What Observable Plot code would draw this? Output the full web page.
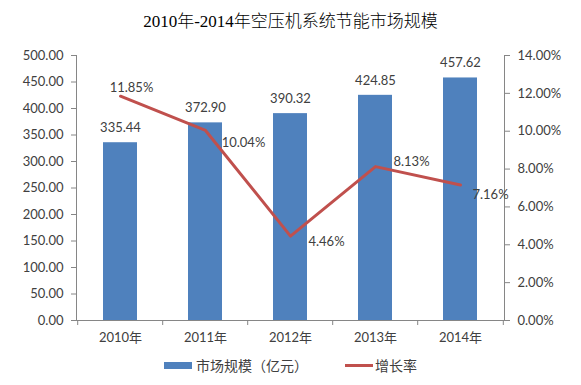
<!DOCTYPE html>
<html>
<head>
<meta charset="utf-8">
<script src="https://cdn.jsdelivr.net/npm/d3@7"></script>
<script src="https://cdn.jsdelivr.net/npm/@observablehq/plot@0.6"></script>
<style>
  html, body { margin: 0; padding: 0; background: #fff; }
  #wrap { width: 581px; height: 385px; position: relative; overflow: hidden; }
  #title { height: 40px; line-height: 44px; text-align: center; font-family: "Liberation Serif", "Noto Sans CJK SC", serif; font-size: 17px; font-weight: 300; color: #000; }
  #chart svg { display: block; }
  #legend { height: 30px; display: flex; justify-content: center; align-items: center; font-family: "Noto Sans CJK SC", sans-serif; font-size: 14px; color: #404040; }
  .item { display: flex; align-items: center; }
  .sw-bar { width: 28px; height: 7px; background: #4F81BD; margin-right: 4px; }
  .sw-line { width: 28px; height: 3px; background: #C0504D; margin-right: 2px; }
</style>
</head>
<body>
<div id="wrap">
  <div id="title">2010年-2014年空压机系统节能市场规模</div>
  <div id="chart"></div>
  <div id="legend">
    <div class="item" style="margin-right:37px"><span class="sw-bar"></span><span>市场规模（亿元）</span></div>
    <div class="item"><span class="sw-line"></span><span>增长率</span></div>
  </div>
</div>
<script>
const years = ["2010年", "2011年", "2012年", "2013年", "2014年"];
const marketSize = [335.44, 372.90, 390.32, 424.85, 457.62];
const growthRate = [11.85, 10.04, 4.46, 8.13, 7.16];
const leftTicks = [0, 50, 100, 150, 200, 250, 300, 350, 400, 450, 500];
const rightTicks = [0, 2, 4, 6, 8, 10, 12, 14];

// layout only
const labelOffsets = [[11, -8], [38, 12], [36, 6], [36, -5], [30, 10]];

const data = years.map((y, i) => ({year: y, size: marketSize[i], rate: growthRate[i]}));
const yMax = 500, pMax = 14, k = yMax / pMax;

const W = 581, H = 310, mL = 76, mR = 77;
const step = (W - mL - mR) / years.length;
const axisGray = "#868686", textGray = "#404040";

const chart = Plot.plot({
  width: W, height: H,
  marginLeft: mL, marginRight: mR, marginTop: 15, marginBottom: 30,
  style: {fontFamily: "Lato, 'Noto Sans CJK SC', sans-serif", fontSize: "13px", color: textGray, background: "white"},
  x: {domain: years, paddingInner: 0.6, paddingOuter: 0.3, axis: null, label: null},
  y: {domain: [0, yMax], axis: null, label: null},
  marks: [
    Plot.barY(data, {x: "year", y: "size", fill: "#4F81BD"}),
    Plot.ruleY([0], {stroke: axisGray}),
    Plot.frame({anchor: "left", stroke: axisGray}),
    Plot.frame({anchor: "right", stroke: axisGray}),
    Plot.axisY(leftTicks, {anchor: "left", label: null, tickSize: 5, tickPadding: 8, tickFormat: d => d.toFixed(2), stroke: axisGray, fill: textGray}),
    Plot.axisY(rightTicks.map(p => p * k), {anchor: "right", label: null, tickSize: 5, tickPadding: 8, tickFormat: d => (d / k).toFixed(2) + "%", stroke: axisGray, fill: textGray}),
    Plot.axisX(years, {anchor: "bottom", label: null, tickSize: 5, tickFormat: () => "", dx: -step / 2, stroke: axisGray}),
    Plot.axisX([years[years.length - 1]], {anchor: "bottom", label: null, tickSize: 5, tickFormat: () => "", dx: step / 2, stroke: axisGray}),
    Plot.axisX(years, {anchor: "bottom", label: null, tickSize: 0, tickPadding: 12, fill: textGray}),
    Plot.text(data, {x: "year", y: "size", text: d => d.size.toFixed(2), dy: -15, fill: textGray}),
    Plot.line(data, {x: "year", y: d => d.rate * k, stroke: "#C0504D", strokeWidth: 3}),
    ...data.map((d, i) => Plot.text([d], {x: "year", y: e => e.rate * k, text: e => e.rate.toFixed(2) + "%", dx: labelOffsets[i][0], dy: labelOffsets[i][1], fill: textGray}))
  ]
});
document.getElementById("chart").appendChild(chart);
</script>
</body>
</html>
